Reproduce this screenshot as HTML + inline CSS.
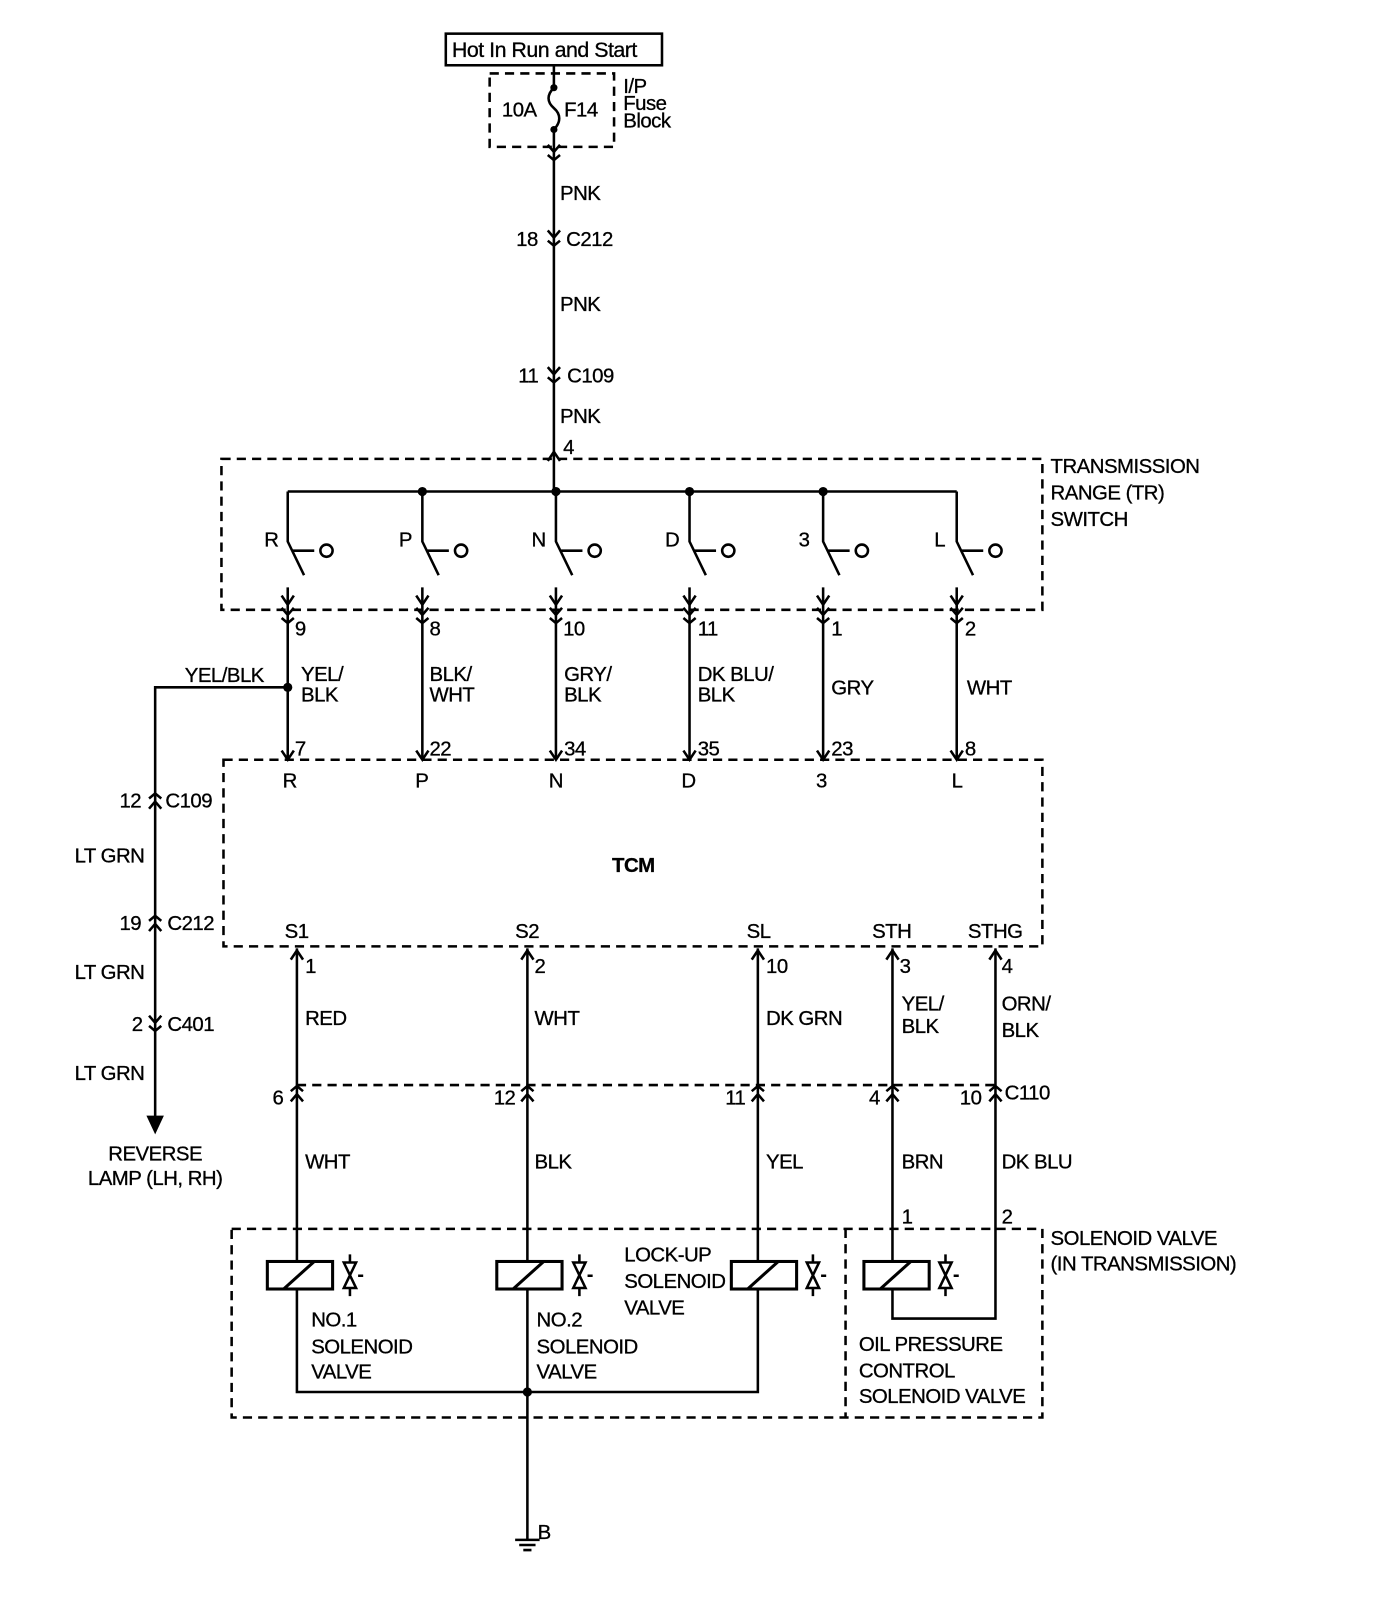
<!DOCTYPE html>
<html><head><meta charset="utf-8"><style>
html,body{margin:0;padding:0;background:#fff;}
svg{display:block;}
text{font-family:"Liberation Sans",Arial,sans-serif;font-size:20px;fill:#000;letter-spacing:-0.5px;stroke:#000;stroke-width:0.3px;}
</style></head><body>
<svg width="1376" height="1598" viewBox="0 0 1349 1567" xmlns="http://www.w3.org/2000/svg">
<defs>
<g id="cd" fill="none" stroke="#000" stroke-width="2.5"><path d="M-6,-8 L0,-1 L6,-8 M-6,2 L0,7 L6,2"/></g>
<g id="cu" fill="none" stroke="#000" stroke-width="2.5"><path d="M-6,8 L0,1 L6,8 M-6,-2 L0,-7 L6,-2"/></g>
<g id="ad" fill="none" stroke="#000" stroke-width="2.5"><path d="M-6,-9 L0,0 L6,-9"/></g>
<g id="au" fill="none" stroke="#000" stroke-width="2.5"><path d="M-6,9 L0,0 L6,9"/></g>
<g id="sw" fill="none" stroke="#000" stroke-width="2.5"><path d="M0,482 L0,531 L16,564 M4,540 L26,540"/><circle cx="38" cy="540" r="6"/></g>
<g id="coil" fill="none" stroke="#000" stroke-width="3"><rect x="0" y="0" width="64" height="27"/><path d="M16,27 L46,0"/></g>
<g id="valve" fill="none" stroke="#000" stroke-width="2.5"><path d="M-6,0 L6,0 L-6,25 L6,25 Z M0,-8 L0,0 M0,25 L0,33 M8,13 L13,13"/></g>
</defs>

<rect x="437" y="33" width="212" height="31" fill="none" stroke="#000" stroke-width="2.5"/>
<text x="443" y="56" style="font-size:21px">Hot In Run and Start</text>
<rect x="480" y="72" width="122" height="72" fill="none" stroke="#000" stroke-width="2.5" stroke-dasharray="9,6"/>
<path d="M543,64 L543,86 M543,127 L543,482" stroke="#000" stroke-width="2.5" fill="none"/>
<path d="M543,86 C536,93 536,100 543,106 C550,112 550,120 543,127" stroke="#000" stroke-width="2.5" fill="none"/>
<circle cx="543" cy="86" r="3.5"/><circle cx="543" cy="127" r="3.5"/>
<text x="492" y="114">10A</text><text x="553" y="114">F14</text>
<text x="611" y="91">I/P</text><text x="611" y="108">Fuse</text><text x="611" y="125">Block</text>
<use href="#cd" x="543" y="150"/>
<text x="549" y="196">PNK</text>
<use href="#cd" x="543" y="234"/><text x="506" y="241">18</text><text x="555" y="241">C212</text>
<text x="549" y="305">PNK</text>
<use href="#cd" x="543" y="368"/><text x="508" y="375">11</text><text x="556" y="375">C109</text>
<text x="549" y="415">PNK</text>
<use href="#au" x="543" y="443"/><text x="552" y="445">4</text>

<rect x="217" y="450" width="805" height="148" fill="none" stroke="#000" stroke-width="2.5" stroke-dasharray="9,6"/>
<text x="1030" y="464">TRANSMISSION</text><text x="1030" y="490">RANGE (TR)</text><text x="1030" y="516">SWITCH</text>
<path d="M282,482 L938,482" stroke="#000" stroke-width="2.5"/>
<circle cx="414" cy="482" r="4.5"/><circle cx="545" cy="482" r="4.5"/><circle cx="676" cy="482" r="4.5"/><circle cx="807" cy="482" r="4.5"/>
<use href="#sw" x="282"/><use href="#sw" x="414"/><use href="#sw" x="545"/><use href="#sw" x="676"/><use href="#sw" x="807"/><use href="#sw" x="938"/>
<text x="259" y="536">R</text><text x="391" y="536">P</text><text x="521" y="536">N</text><text x="652" y="536">D</text><text x="783" y="536">3</text><text x="916" y="536">L</text>

<g stroke="#000" stroke-width="2.5" fill="none">
<path d="M282,576 L282,745 M414,576 L414,745 M545,576 L545,745 M676,576 L676,745 M807,576 L807,745 M938,576 L938,745"/>
<path d="M282,674 L152,674 L152,1105"/>
</g>
<circle cx="282" cy="674" r="4.5"/>
<g>
<use href="#ad" x="282" y="593"/><use href="#cd" x="282" y="604"/>
<use href="#ad" x="414" y="593"/><use href="#cd" x="414" y="604"/>
<use href="#ad" x="545" y="593"/><use href="#cd" x="545" y="604"/>
<use href="#ad" x="676" y="593"/><use href="#cd" x="676" y="604"/>
<use href="#ad" x="807" y="593"/><use href="#cd" x="807" y="604"/>
<use href="#ad" x="938" y="593"/><use href="#cd" x="938" y="604"/>
<use href="#ad" x="282" y="745"/><use href="#ad" x="414" y="745"/><use href="#ad" x="545" y="745"/><use href="#ad" x="676" y="745"/><use href="#ad" x="807" y="745"/><use href="#ad" x="938" y="745"/>
</g>
<text x="289" y="623">9</text><text x="421" y="623">8</text><text x="552" y="623">10</text><text x="684" y="623">11</text><text x="815" y="623">1</text><text x="946" y="623">2</text>
<text x="295" y="668">YEL/</text><text x="295" y="688">BLK</text>
<text x="421" y="668">BLK/</text><text x="421" y="688">WHT</text>
<text x="553" y="668">GRY/</text><text x="553" y="688">BLK</text>
<text x="684" y="668">DK BLU/</text><text x="684" y="688">BLK</text>
<text x="815" y="681">GRY</text><text x="948" y="681">WHT</text>
<text x="181" y="669">YEL/BLK</text>
<text x="289" y="741">7</text><text x="421" y="741">22</text><text x="553" y="741">34</text><text x="684" y="741">35</text><text x="815" y="741">23</text><text x="946" y="741">8</text>

<use href="#cu" x="152" y="785"/><text x="117" y="792">12</text><text x="162" y="792">C109</text>
<text x="73" y="846">LT GRN</text>
<use href="#cu" x="152" y="905"/><text x="117" y="912">19</text><text x="164" y="912">C212</text>
<text x="73" y="960">LT GRN</text>
<use href="#cd" x="152" y="1004"/><text x="129" y="1011">2</text><text x="164" y="1011">C401</text>
<text x="73" y="1059">LT GRN</text>
<path d="M145,1095 L152,1110 L159,1095 Z" fill="#000" stroke="#000" stroke-width="2"/>
<text x="152" y="1138" text-anchor="middle">REVERSE</text><text x="152" y="1162" text-anchor="middle">LAMP (LH, RH)</text>

<rect x="219" y="745" width="803" height="183" fill="none" stroke="#000" stroke-width="2.5" stroke-dasharray="9,6"/>
<text x="277" y="772">R</text><text x="407" y="772">P</text><text x="538" y="772">N</text><text x="668" y="772">D</text><text x="800" y="772">3</text><text x="933" y="772">L</text>
<text x="600" y="855" style="font-weight:bold">TCM</text>
<text x="279" y="920">S1</text><text x="505" y="920">S2</text><text x="732" y="920">SL</text><text x="855" y="920">STH</text><text x="949" y="920">STHG</text>

<g stroke="#000" stroke-width="2.5" fill="none">
<path d="M291,930 L291,1237 M291,1264 L291,1365 L743,1365 L743,1264 M743,1237 L743,930"/>
<path d="M517,930 L517,1237 M517,1264 L517,1510"/>
<path d="M875,930 L875,1237 M875,1264 L875,1293 L976,1293 L976,930"/>
<path d="M291,1064 L976,1064" stroke-dasharray="9,6"/>
<path d="M505,1510 L529,1510 M509,1515 L525,1515 M513,1520 L521,1520"/>
</g>
<circle cx="517" cy="1365" r="4.5"/>
<use href="#au" x="291" y="932"/><use href="#au" x="517" y="932"/><use href="#au" x="743" y="932"/><use href="#au" x="875" y="932"/><use href="#au" x="976" y="932"/>
<text x="299" y="954">1</text><text x="524" y="954">2</text><text x="751" y="954">10</text><text x="882" y="954">3</text><text x="982" y="954">4</text>
<text x="299" y="1005">RED</text><text x="524" y="1005">WHT</text><text x="751" y="1005">DK GRN</text>
<text x="884" y="991">YEL/</text><text x="884" y="1013">BLK</text>
<text x="982" y="991">ORN/</text><text x="982" y="1017">BLK</text>
<use href="#cu" x="291" y="1072"/><use href="#cu" x="517" y="1072"/><use href="#cu" x="743" y="1072"/><use href="#cu" x="875" y="1072"/><use href="#cu" x="976" y="1072"/>
<text x="267" y="1083">6</text><text x="484" y="1083">12</text><text x="711" y="1083">11</text><text x="852" y="1083">4</text><text x="941" y="1083">10</text><text x="985" y="1078">C110</text>
<text x="299" y="1146">WHT</text><text x="524" y="1146">BLK</text><text x="751" y="1146">YEL</text><text x="884" y="1146">BRN</text><text x="982" y="1146">DK BLU</text>
<text x="884" y="1200">1</text><text x="982" y="1200">2</text>

<rect x="227" y="1205" width="795" height="185" fill="none" stroke="#000" stroke-width="2.5" stroke-dasharray="9,6"/>
<path d="M829,1205 L829,1390" stroke="#000" stroke-width="2.5" stroke-dasharray="9,6"/>
<text x="1030" y="1221">SOLENOID VALVE</text><text x="1030" y="1246">(IN TRANSMISSION)</text>
<use href="#coil" x="262" y="1237"/><use href="#coil" x="487" y="1237"/><use href="#coil" x="717" y="1237"/><use href="#coil" x="847" y="1237"/>
<use href="#valve" x="343" y="1238"/><use href="#valve" x="568" y="1238"/><use href="#valve" x="797" y="1238"/><use href="#valve" x="927" y="1238"/>
<text x="305" y="1301">NO.1</text><text x="305" y="1327">SOLENOID</text><text x="305" y="1352">VALVE</text>
<text x="526" y="1301">NO.2</text><text x="526" y="1327">SOLENOID</text><text x="526" y="1352">VALVE</text>
<text x="612" y="1237">LOCK-UP</text><text x="612" y="1263">SOLENOID</text><text x="612" y="1289">VALVE</text>
<text x="842" y="1325">OIL PRESSURE</text><text x="842" y="1351">CONTROL</text><text x="842" y="1376">SOLENOID VALVE</text>
<text x="527" y="1509">B</text>
</svg>
</body></html>
